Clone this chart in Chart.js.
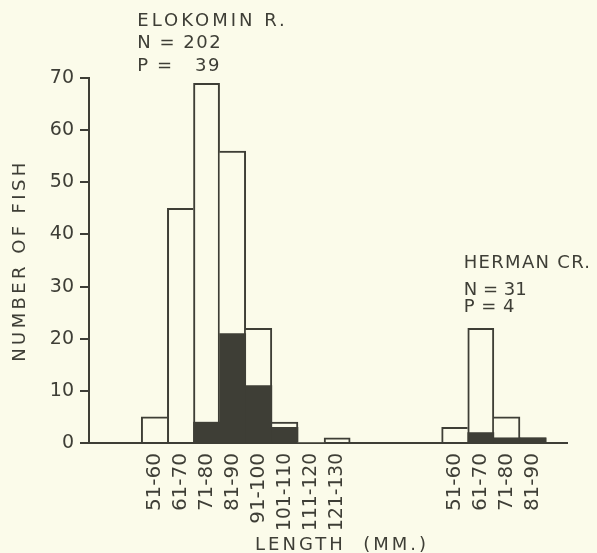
<!DOCTYPE html>
<html>
<head>
<meta charset="utf-8">
<title>Number of fish by length</title>
<script src="https://cdn.jsdelivr.net/npm/chart.js@4.4.1/dist/chart.umd.min.js"></script>
<style>
  html, body { margin: 0; padding: 0; background: #fbfbea; }
  canvas { display: block; }
</style>
</head>
<body>
<canvas id="chart" width="597" height="553"></canvas>
<script>
// length classes (mm) and counts
const elokominLabels = ["51-60", "61-70", "71-80", "81-90", "91-100", "101-110", "111-120", "121-130"];
const elokominTotal = [5, 45, 69, 56, 22, 4, 0, 1];
const elokominParasitized = [0, 0, 4, 21, 11, 3, 0, 0];

const hermanLabels = ["51-60", "61-70", "71-80", "81-90"];
const hermanTotal = [3, 22, 5, 1];
const hermanParasitized = [0, 2, 1, 1];

const yTicks = [0, 10, 20, 30, 40, 50, 60, 70];

const INK = "#3e3e36";
const PAPER = "#fbfbea";
const FONT = "'DejaVu Sans', sans-serif";

// Herman Cr. group starts 3.5 class widths after the end of the Elokomin group
const hermanStart = elokominLabels.length + 3.5;
const positions = elokominLabels.map((_, i) => i)
  .concat(hermanLabels.map((_, j) => hermanStart + j));
const tickLabels = elokominLabels.concat(hermanLabels);
const totals = elokominTotal.concat(hermanTotal);
const parasitized = elokominParasitized.concat(hermanParasitized);

const points = (values) => positions.map((x, i) => ({ x: x, y: values[i] }));
const sum = (arr) => arr.reduce((a, b) => a + b, 0);

// neighbouring bars share an edge; draw it only on the taller one
function edgeWidths(ctx) {
  if (ctx.type !== "data") return 2;
  const i = ctx.dataIndex;
  const v = totals[i];
  const prev = positions[i - 1] === positions[i] - 1 ? totals[i - 1] : -1;
  const next = positions[i + 1] === positions[i] + 1 ? totals[i + 1] : -1;
  return { top: 2, left: v > prev ? 2 : 0, right: v >= next ? 2 : 0, bottom: 0 };
}

// long class labels get a little smaller so they stay clear of the axis title
function tickFont(ctx) {
  const label = tickLabels[ctx.index] || "";
  const c = ctx.chart.ctx;
  c.save();
  c.letterSpacing = "0px";
  c.font = "100px " + FONT;
  const em = c.measureText(label).width / 100;
  c.restore();
  return { family: FONT, size: em ? Math.min(20, 78 / em) : 20 };
}

function spaced(ctx, text, x, y, spacing) {
  ctx.letterSpacing = spacing + "px";
  ctx.fillText(text, x, y);
}

const lettering = {
  id: "lettering",
  afterDraw(chart) {
    const { ctx, chartArea, scales: { x } } = chart;
    ctx.save();
    ctx.fillStyle = INK;
    ctx.font = "18px " + FONT;
    ctx.textAlign = "left";
    ctx.textBaseline = "alphabetic";

    const ex = x.getPixelForValue(0) - 17;
    spaced(ctx, "ELOKOMIN R.", ex, 26, 3);
    spaced(ctx, "N = " + sum(elokominTotal), ex, 48, 1.5);
    spaced(ctx, "P = " + String(sum(elokominParasitized)).padStart(4, " "), ex, 71, 1.5);

    const hx = x.getPixelForValue(hermanStart + 0.5) - 4;
    spaced(ctx, "HERMAN CR.", hx, 268, 1.3);
    spaced(ctx, "N = " + sum(hermanTotal), hx, 295, 0);
    spaced(ctx, "P = " + sum(hermanParasitized), hx, 312, 0.5);

    ctx.textAlign = "center";
    spaced(ctx, "LENGTH  (MM.)", 342, 550, 3);

    ctx.translate(20, (chartArea.top + chartArea.bottom) / 2);
    ctx.rotate(-Math.PI / 2);
    ctx.textBaseline = "middle";
    spaced(ctx, "NUMBER OF FISH", 0, 0, 3.4);
    ctx.restore();
  }
};

new Chart(document.getElementById("chart"), {
  type: "bar",
  data: {
    datasets: [
      {
        label: "Parasitized",
        data: points(parasitized),
        backgroundColor: INK,
        borderWidth: 0,
        order: 0
      },
      {
        label: "All fish",
        data: points(totals),
        backgroundColor: PAPER,
        borderColor: INK,
        borderWidth: edgeWidths,
        order: 1
      }
    ]
  },
  options: {
    responsive: false,
    animation: false,
    devicePixelRatio: 1,
    layout: { padding: { top: 78, right: 30, left: 0, bottom: 0 } },
    datasets: { bar: { grouped: false, barPercentage: 1, categoryPercentage: 1 } },
    plugins: { legend: { display: false }, tooltip: { enabled: false } },
    scales: {
      x: {
        type: "linear",
        offset: false,
        min: -2.5,
        max: 15.8,
        afterBuildTicks: (s) => { s.ticks = positions.map((v) => ({ value: v })); },
        afterFit: (s) => { s.height = 110; },
        grid: { display: false, drawTicks: false },
        border: { color: INK, width: 2 },
        ticks: {
          autoSkip: false,
          minRotation: 90,
          maxRotation: 90,
          padding: 10,
          color: INK,
          font: tickFont,
          callback: (v, i) => tickLabels[i]
        }
      },
      y: {
        min: 0,
        max: 70,
        afterBuildTicks: (s) => { s.ticks = yTicks.map((v) => ({ value: v })); },
        afterFit: (s) => { s.width = 89; },
        grid: { drawOnChartArea: false, tickLength: 9, color: INK, lineWidth: 2 },
        border: { color: INK, width: 2 },
        ticks: { padding: 6, color: INK, font: { family: FONT, size: 19 } }
      }
    }
  },
  plugins: [lettering]
});
</script>
</body>
</html>
